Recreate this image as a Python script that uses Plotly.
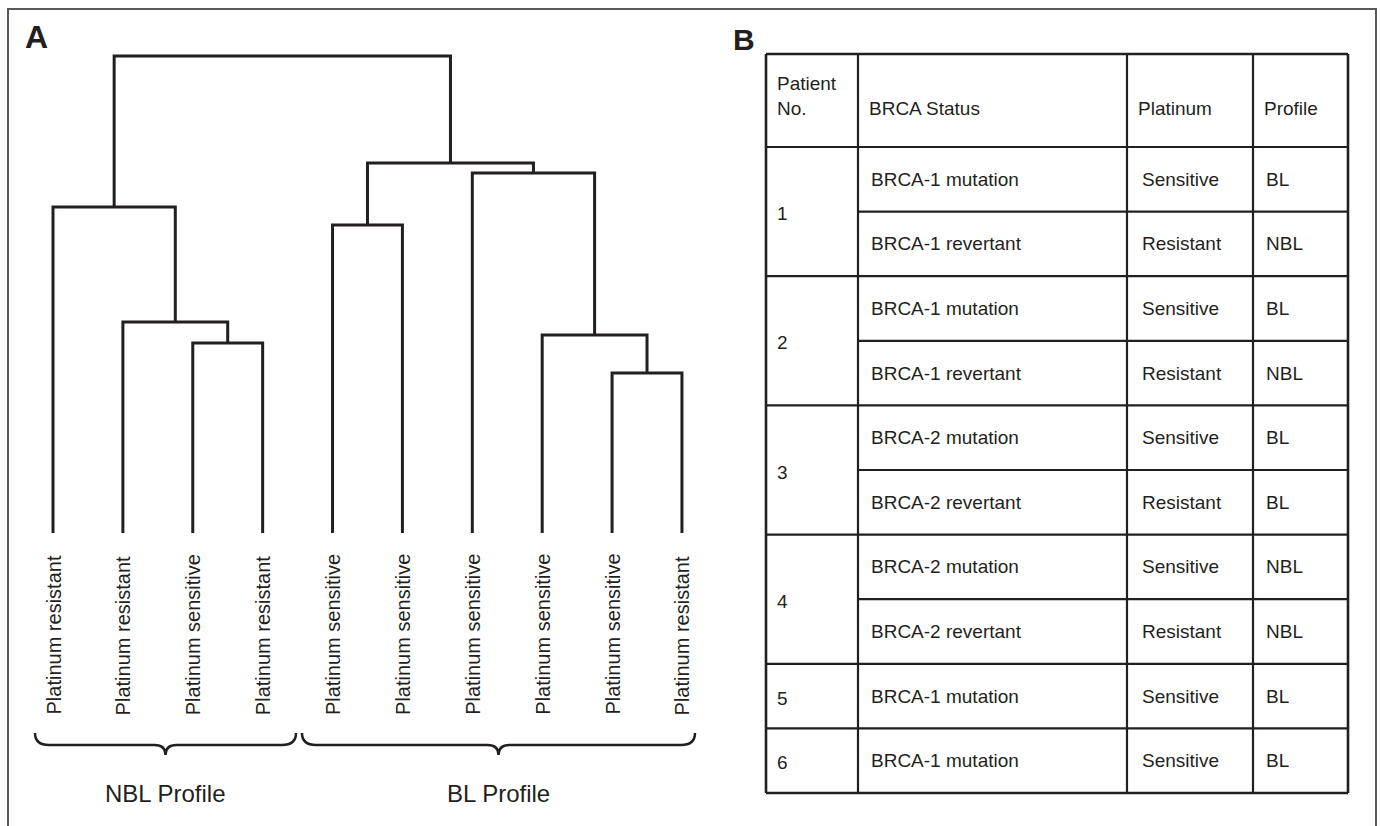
import plotly.graph_objects as go

# ------------------------------------------------------------------ data
leaf_labels = [
    "Platinum resistant", "Platinum resistant", "Platinum sensitive", "Platinum resistant",
    "Platinum sensitive", "Platinum sensitive", "Platinum sensitive", "Platinum sensitive",
    "Platinum sensitive", "Platinum resistant",
]
# hierarchical merges (linkage style: new cluster ids start at len(leaf_labels))
merge_left = [2, 1, 0, 8, 7, 6, 4, 16, 12]
merge_right = [3, 10, 11, 9, 13, 14, 5, 15, 17]
merge_height = [1.90, 2.11, 3.26, 1.60, 1.98, 3.60, 3.08, 3.70, 4.77]

profile_groups = ["NBL Profile", "BL Profile"]

table_header = ["Patient<br>No.", "BRCA Status", "Platinum", "Profile"]
patient_no = ["1", "1", "2", "2", "3", "3", "4", "4", "5", "6"]
brca_status = [
    "BRCA-1 mutation", "BRCA-1 revertant", "BRCA-1 mutation", "BRCA-1 revertant",
    "BRCA-2 mutation", "BRCA-2 revertant", "BRCA-2 mutation", "BRCA-2 revertant",
    "BRCA-1 mutation", "BRCA-1 mutation",
]
platinum = ["Sensitive", "Resistant", "Sensitive", "Resistant", "Sensitive",
            "Resistant", "Sensitive", "Resistant", "Sensitive", "Sensitive"]
profile = ["BL", "NBL", "BL", "NBL", "BL", "BL", "NBL", "NBL", "BL", "BL"]

# ------------------------------------------------------------------ layout constants
W, H = 1381, 826
INK = "#231f20"
FONT = "Liberation Sans, Arial, sans-serif"
NARROW = "Liberation Sans Narrow, Arial Narrow, Liberation Sans, Arial, sans-serif"


def px(x):
    return x / W


def py(y):
    return 1 - y / H


# dendrogram axis placement (pixels)
DEND_X_PX = (18.06, 716.9)     # x range [-0.5, 9.5]
DEND_Y_PX = (543.0, 33.0)      # y range [-0.1, 5.0]
LABEL_BOTTOM_PX = 717
BRACE_SPANS_PX = [(35, 296), (302, 695)]
BRACE_Y = (733, 745, 755)
PROFILE_LABEL_Y = 793

# table placement (pixels)
T_LEFT, T_TOP = 766, 54
COL_W = [92, 269, 126, 95]
HEADER_H = 93
ROW_H = 64.6
PAD = 12

# ------------------------------------------------------------------ dendrogram coords
n = len(leaf_labels)
pos = {i: float(i) for i in range(n)}
hgt = {i: 0.0 for i in range(n)}
xs, ys = [], []
for k, (a, b, h) in enumerate(zip(merge_left, merge_right, merge_height)):
    cid = n + k
    xs += [pos[a], pos[a], pos[b], pos[b], None]
    ys += [hgt[a], h, h, hgt[b], None]
    pos[cid] = (pos[a] + pos[b]) / 2
    hgt[cid] = h

fig = go.Figure()
fig.add_trace(go.Scatter(
    x=xs, y=ys, mode="lines",
    line=dict(color=INK, width=3),
    hoverinfo="skip", showlegend=False,
    xaxis="x", yaxis="y",
))

shapes = []
annotations = []

# leaf labels
for i, lab in enumerate(leaf_labels):
    annotations.append(dict(
        x=i, xref="x", y=py(LABEL_BOTTOM_PX), yref="paper",
        text=lab, textangle=-90, showarrow=False,
        xanchor="center", yanchor="bottom",
        font=dict(family=FONT, size=20, color=INK),
    ))

# braces + profile labels
y_top, y_mid, y_tip = BRACE_Y
for name, (x0, x1) in zip(profile_groups, BRACE_SPANS_PX):
    xm = (x0 + x1) / 2
    re, rt = 14, 11
    pts = [
        f"M {px(x0)},{py(y_top)}",
        f"Q {px(x0)},{py(y_mid)} {px(x0 + re)},{py(y_mid)}",
        f"L {px(xm - rt)},{py(y_mid)}",
        f"Q {px(xm)},{py(y_mid)} {px(xm)},{py(y_tip)}",
        f"Q {px(xm)},{py(y_mid)} {px(xm + rt)},{py(y_mid)}",
        f"L {px(x1 - re)},{py(y_mid)}",
        f"Q {px(x1)},{py(y_mid)} {px(x1)},{py(y_top)}",
    ]
    shapes.append(dict(type="path", path=" ".join(pts), xref="paper", yref="paper",
                       line=dict(color=INK, width=2.5)))
    annotations.append(dict(
        x=px(xm), y=py(PROFILE_LABEL_Y), xref="paper", yref="paper",
        text=name, showarrow=False, xanchor="center", yanchor="middle",
        font=dict(family=NARROW, size=24, color=INK),
    ))

# panel letters
annotations.append(dict(x=px(36), y=py(37), xref="paper", yref="paper", text="<b>A</b>",
                        showarrow=False, xanchor="center", yanchor="middle",
                        font=dict(family=FONT, size=32, color=INK)))
annotations.append(dict(x=px(744), y=py(40), xref="paper", yref="paper", text="<b>B</b>",
                        showarrow=False, xanchor="center", yanchor="middle",
                        font=dict(family=FONT, size=30, color=INK)))

# outer frame
shapes.append(dict(type="rect", xref="paper", yref="paper",
                   x0=px(8), x1=px(1376), y0=py(9), y1=py(900),
                   line=dict(color="#58595b", width=2)))

# ------------------------------------------------------------------ table
col_x = [T_LEFT]
for w in COL_W:
    col_x.append(col_x[-1] + w)
nrows = len(patient_no)
row_y = [T_TOP + HEADER_H + ROW_H * r for r in range(nrows + 1)]
T_BOTTOM = row_y[-1]


def hline(x0, x1, y, w=2.2):
    shapes.append(dict(type="line", xref="paper", yref="paper",
                       x0=px(x0), x1=px(x1), y0=py(y), y1=py(y),
                       line=dict(color=INK, width=w)))


def vline(x, y0, y1, w=2.2):
    shapes.append(dict(type="line", xref="paper", yref="paper",
                       x0=px(x), x1=px(x), y0=py(y0), y1=py(y1),
                       line=dict(color=INK, width=w)))


hline(col_x[0], col_x[-1], T_TOP, 2.6)
hline(col_x[0], col_x[-1], row_y[0])
hline(col_x[0], col_x[-1], T_BOTTOM, 2.6)
for r in range(1, nrows):
    start = col_x[0] if patient_no[r] != patient_no[r - 1] else col_x[1]
    hline(start, col_x[-1], row_y[r])
for j, x in enumerate(col_x):
    vline(x, T_TOP, T_BOTTOM, 2.6 if j in (0, len(col_x) - 1) else 2.2)

cell_font = dict(family=FONT, size=19, color=INK)


def cell_text(text, x, y):
    annotations.append(dict(x=px(x), y=py(y), xref="paper", yref="paper", text=text,
                            showarrow=False, xanchor="left", yanchor="middle",
                            align="left", font=cell_font))


# header
for j, head in enumerate(table_header):
    yc = T_TOP + HEADER_H - 39 if "<br>" not in head else T_TOP + HEADER_H - 51
    cell_text(head, col_x[j] + PAD - 3, yc)

# patient number (merged cells)
r = 0
while r < nrows:
    r2 = r
    while r2 + 1 < nrows and patient_no[r2 + 1] == patient_no[r]:
        r2 += 1
    cell_text(patient_no[r], col_x[0] + PAD - 3, (row_y[r] + row_y[r2 + 1]) / 2 + 2)
    r = r2 + 1

for r in range(nrows):
    yc = (row_y[r] + row_y[r + 1]) / 2
    cell_text(brca_status[r], col_x[1] + PAD - 1, yc)
    cell_text(platinum[r], col_x[2] + PAD + 1, yc)
    cell_text(profile[r], col_x[3] + PAD - 1, yc)

# ------------------------------------------------------------------ layout
fig.update_layout(
    width=W, height=H,
    margin=dict(l=0, r=0, t=0, b=0),
    paper_bgcolor="white", plot_bgcolor="white",
    showlegend=False,
    xaxis=dict(domain=[px(DEND_X_PX[0]), px(DEND_X_PX[1])], range=[-0.5, 9.5],
               visible=False, fixedrange=True),
    yaxis=dict(domain=[py(DEND_Y_PX[0]), py(DEND_Y_PX[1])], range=[-0.1, 5.0],
               visible=False, fixedrange=True),
    shapes=shapes,
    annotations=annotations,
)

fig.write_html("out.html", post_script="document.body.style.margin='0';",
               config={"displayModeBar": False})
